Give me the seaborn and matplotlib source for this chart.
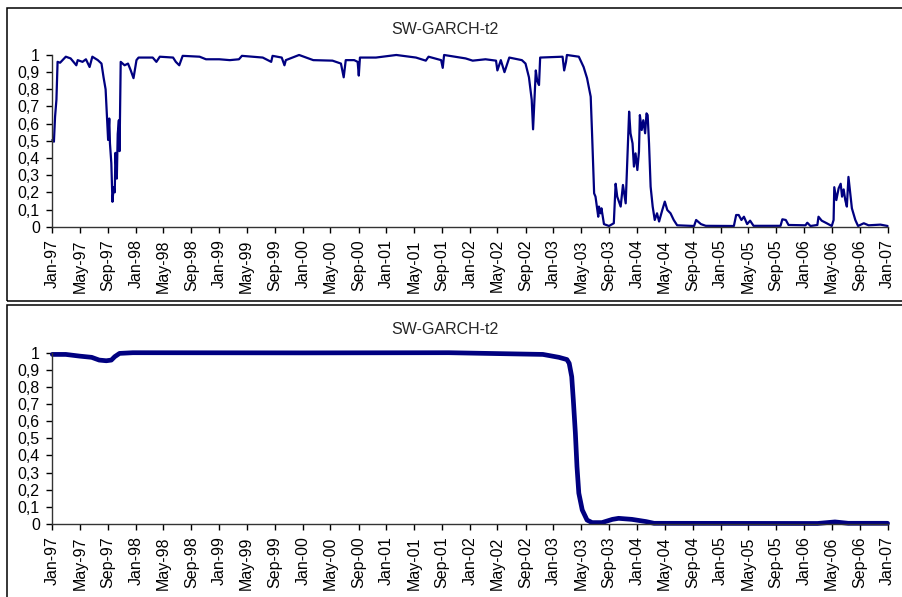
import pandas as pd
import matplotlib
matplotlib.use('Agg')
import matplotlib.pyplot as plt
import matplotlib.dates as mdates
from matplotlib.patches import Rectangle
from matplotlib.ticker import FuncFormatter
import seaborn as sns

title = 'SW-GARCH-t2'

# filtered regime probability (upper panel)
filt_dates = [
    '1997-01-01', '1997-01-08', '1997-01-13', '1997-01-19', '1997-01-24', '1997-02-04', '1997-03-01',
    '1997-03-22', '1997-04-16', '1997-04-22', '1997-05-13', '1997-05-28', '1997-06-13', '1997-06-25',
    '1997-07-19', '1997-08-04', '1997-08-13', '1997-08-22', '1997-08-28', '1997-09-02', '1997-09-07',
    '1997-09-10', '1997-09-16', '1997-09-21', '1997-09-26', '1997-10-01', '1997-10-04', '1997-10-10',
    '1997-10-14', '1997-10-19', '1997-10-22', '1997-10-27', '1997-11-13', '1997-11-28', '1997-12-10',
    '1997-12-22', '1998-01-04', '1998-01-13', '1998-03-16', '1998-04-01', '1998-04-16', '1998-06-13',
    '1998-06-25', '1998-07-10', '1998-07-25', '1998-10-07', '1998-11-04', '1999-01-01', '1999-02-16',
    '1999-03-28', '1999-04-10', '1999-07-10', '1999-08-16', '1999-08-22', '1999-10-01', '1999-10-13',
    '1999-10-19', '1999-12-16', '2000-02-16', '2000-05-10', '2000-06-16', '2000-06-28', '2000-07-07',
    '2000-08-13', '2000-08-28', '2000-09-02', '2000-09-07', '2000-11-16', '2001-02-13', '2001-05-10',
    '2001-06-22', '2001-07-04', '2001-08-28', '2001-09-04', '2001-09-10', '2001-12-13', '2002-01-13',
    '2002-03-10', '2002-04-25', '2002-05-01', '2002-05-16', '2002-06-01', '2002-06-22', '2002-08-16',
    '2002-09-01', '2002-09-16', '2002-09-28', '2002-10-04', '2002-10-10', '2002-10-16', '2002-10-22',
    '2002-10-30', '2002-11-04', '2003-02-10', '2003-02-17', '2003-02-25', '2003-03-01', '2003-04-22',
    '2003-05-13', '2003-05-28', '2003-06-13', '2003-06-19', '2003-06-28', '2003-07-04', '2003-07-16',
    '2003-07-19', '2003-07-26', '2003-07-30', '2003-08-10', '2003-09-01', '2003-09-22', '2003-09-30',
    '2003-10-07', '2003-10-22', '2003-11-01', '2003-11-13', '2003-11-28', '2003-12-04', '2003-12-13',
    '2003-12-19', '2003-12-26', '2004-01-03', '2004-01-10', '2004-01-14', '2004-01-22', '2004-01-29',
    '2004-02-06', '2004-02-12', '2004-02-17', '2004-02-23', '2004-03-01', '2004-03-10', '2004-03-19',
    '2004-03-29', '2004-04-07', '2004-04-21', '2004-05-02', '2004-05-13', '2004-05-27', '2004-06-10',
    '2004-06-25', '2004-09-07', '2004-09-16', '2004-10-07', '2004-10-28', '2005-02-28', '2005-03-10',
    '2005-03-21', '2005-04-02', '2005-04-13', '2005-04-27', '2005-05-10', '2005-05-25', '2005-09-20',
    '2005-09-28', '2005-10-13', '2005-10-25', '2006-01-07', '2006-01-15', '2006-01-29', '2006-02-28',
    '2006-03-05', '2006-03-19', '2006-04-10', '2006-05-02', '2006-05-10', '2006-05-13', '2006-05-22',
    '2006-06-01', '2006-06-10', '2006-06-16', '2006-06-23', '2006-06-30', '2006-07-07', '2006-07-14',
    '2006-07-22', '2006-07-29', '2006-08-13', '2006-08-25', '2006-09-19', '2006-10-10', '2006-12-01',
    '2007-01-01',
]
filt_prob = [
    0.505, 0.495, 0.64, 0.74, 0.96, 0.955, 0.99,
    0.98, 0.94, 0.97, 0.96, 0.975, 0.93, 0.99,
    0.97, 0.95, 0.87, 0.80, 0.64, 0.505, 0.63,
    0.485, 0.37, 0.145, 0.23, 0.20, 0.43, 0.28,
    0.54, 0.62, 0.44, 0.96, 0.94, 0.95, 0.91,
    0.865, 0.97, 0.985, 0.985, 0.96, 0.99, 0.985,
    0.96, 0.94, 0.995, 0.99, 0.975, 0.975, 0.97,
    0.975, 0.995, 0.985, 0.96, 0.995, 0.985, 0.94,
    0.97, 1.0, 0.97, 0.967, 0.95, 0.87, 0.97,
    0.97, 0.96, 0.88, 0.985, 0.985, 1.0, 0.985,
    0.967, 0.99, 0.97, 0.925, 1.0, 0.98, 0.967,
    0.975, 0.967, 0.91, 0.97, 0.90, 0.985, 0.97,
    0.95, 0.87, 0.74, 0.567, 0.74, 0.91, 0.85,
    0.825, 0.985, 0.99, 0.91, 0.96, 1.0, 0.99,
    0.93, 0.865, 0.757, 0.54, 0.194, 0.175, 0.058,
    0.117, 0.078, 0.107, 0.015, 0.004, 0.02, 0.25,
    0.175, 0.117, 0.243, 0.136, 0.67, 0.544, 0.485,
    0.35, 0.427, 0.33, 0.437, 0.65, 0.563, 0.62,
    0.544, 0.66, 0.65, 0.485, 0.233, 0.117, 0.039,
    0.078, 0.03, 0.097, 0.146, 0.097, 0.078, 0.039,
    0.008, 0.004, 0.039, 0.015, 0.005, 0.004, 0.068,
    0.068, 0.039, 0.058, 0.015, 0.035, 0.005, 0.005,
    0.043, 0.039, 0.01, 0.008, 0.023, 0.004, 0.01,
    0.058, 0.035, 0.02, 0.004, 0.039, 0.23, 0.155,
    0.223, 0.25, 0.175, 0.217, 0.155, 0.117, 0.29,
    0.194, 0.107, 0.039, 0.004, 0.02, 0.008, 0.012,
    0.004,
]

# smoothed regime probability (lower panel)
smooth_dates = [
    '1997-01-01', '1997-03-01', '1997-05-01', '1997-06-22', '1997-07-25', '1997-08-25', '1997-09-16',
    '1997-10-01', '1997-10-22', '1997-12-19', '2000-01-01', '2001-10-01', '2002-11-16', '2003-01-25',
    '2003-03-01', '2003-03-11', '2003-03-22', '2003-03-29', '2003-04-07', '2003-04-14', '2003-04-22',
    '2003-05-07', '2003-05-28', '2003-06-19', '2003-08-01', '2003-09-16', '2003-10-13', '2003-12-10',
    '2004-02-10', '2004-03-16', '2006-03-01', '2006-05-16', '2006-07-13', '2007-01-01',
]
smooth_prob = [
    0.99, 0.99, 0.98, 0.973, 0.957, 0.953, 0.957,
    0.977, 0.996, 1.0, 0.999, 1.0, 0.99, 0.973,
    0.96, 0.938, 0.86, 0.724, 0.53, 0.335, 0.18,
    0.082, 0.023, 0.008, 0.008, 0.027, 0.033, 0.027,
    0.014, 0.004, 0.003, 0.012, 0.004, 0.004,
]

sns.set_theme(style='ticks')
plt.rcParams['font.family'] = ['Liberation Sans', 'DejaVu Sans']

df_filt = pd.DataFrame({'date': pd.to_datetime(filt_dates), 'prob': filt_prob})
df_smooth = pd.DataFrame({'date': pd.to_datetime(smooth_dates), 'prob': smooth_prob})

fig = plt.figure(figsize=(9.02, 5.97), dpi=100)

# chart frames (Excel style borders)
fig.patches.append(Rectangle((0.0083, 0.4958), 1.1, 0.4903, transform=fig.transFigure,
                             fill=False, edgecolor='black', linewidth=1.1))
fig.patches.append(Rectangle((0.0083, -0.1), 1.1, 0.5891, transform=fig.transFigure,
                             fill=False, edgecolor='black', linewidth=1.1))

ax1 = fig.add_axes([0.058, 0.6203, 0.926, 0.2876])
ax2 = fig.add_axes([0.058, 0.1223, 0.926, 0.2869])

panels = [(ax1, df_filt, 1.6, 0.9506), (ax2, df_smooth, 3.4, 0.4489)]
for ax, df, lw, ty in panels:
    sns.lineplot(data=df, x='date', y='prob', ax=ax, color='#000080', linewidth=lw)
    for ln in ax.lines:
        ln.set_clip_on(False)
    ax.set_xlim(pd.Timestamp('1997-01-01'), pd.Timestamp('2007-01-01'))
    ax.set_ylim(0, 1)
    ax.set_yticks([i / 10 for i in range(11)])
    ax.yaxis.set_major_formatter(FuncFormatter(lambda v, p: ('%g' % round(v, 1)).replace('.', ',')))
    ax.xaxis.set_major_locator(mdates.MonthLocator(bymonth=[1, 5, 9]))
    ax.xaxis.set_major_formatter(mdates.DateFormatter('%b-%y'))
    ax.tick_params(axis='x', labelrotation=90, labelsize=11.5, length=4, width=1, pad=5, colors='black')
    ax.tick_params(axis='y', labelsize=11.5, length=4, width=1, pad=5, colors='black')
    ax.set_xlabel('')
    ax.set_ylabel('')
    sns.despine(ax=ax)
    for s in ['left', 'bottom']:
        ax.spines[s].set_color('#333333')
        ax.spines[s].set_linewidth(1)
    ax.patch.set_alpha(0)
    fig.text(0.4933, ty, title, ha='center', va='center', fontsize=11.5)

fig.savefig('out.png', dpi=100)
